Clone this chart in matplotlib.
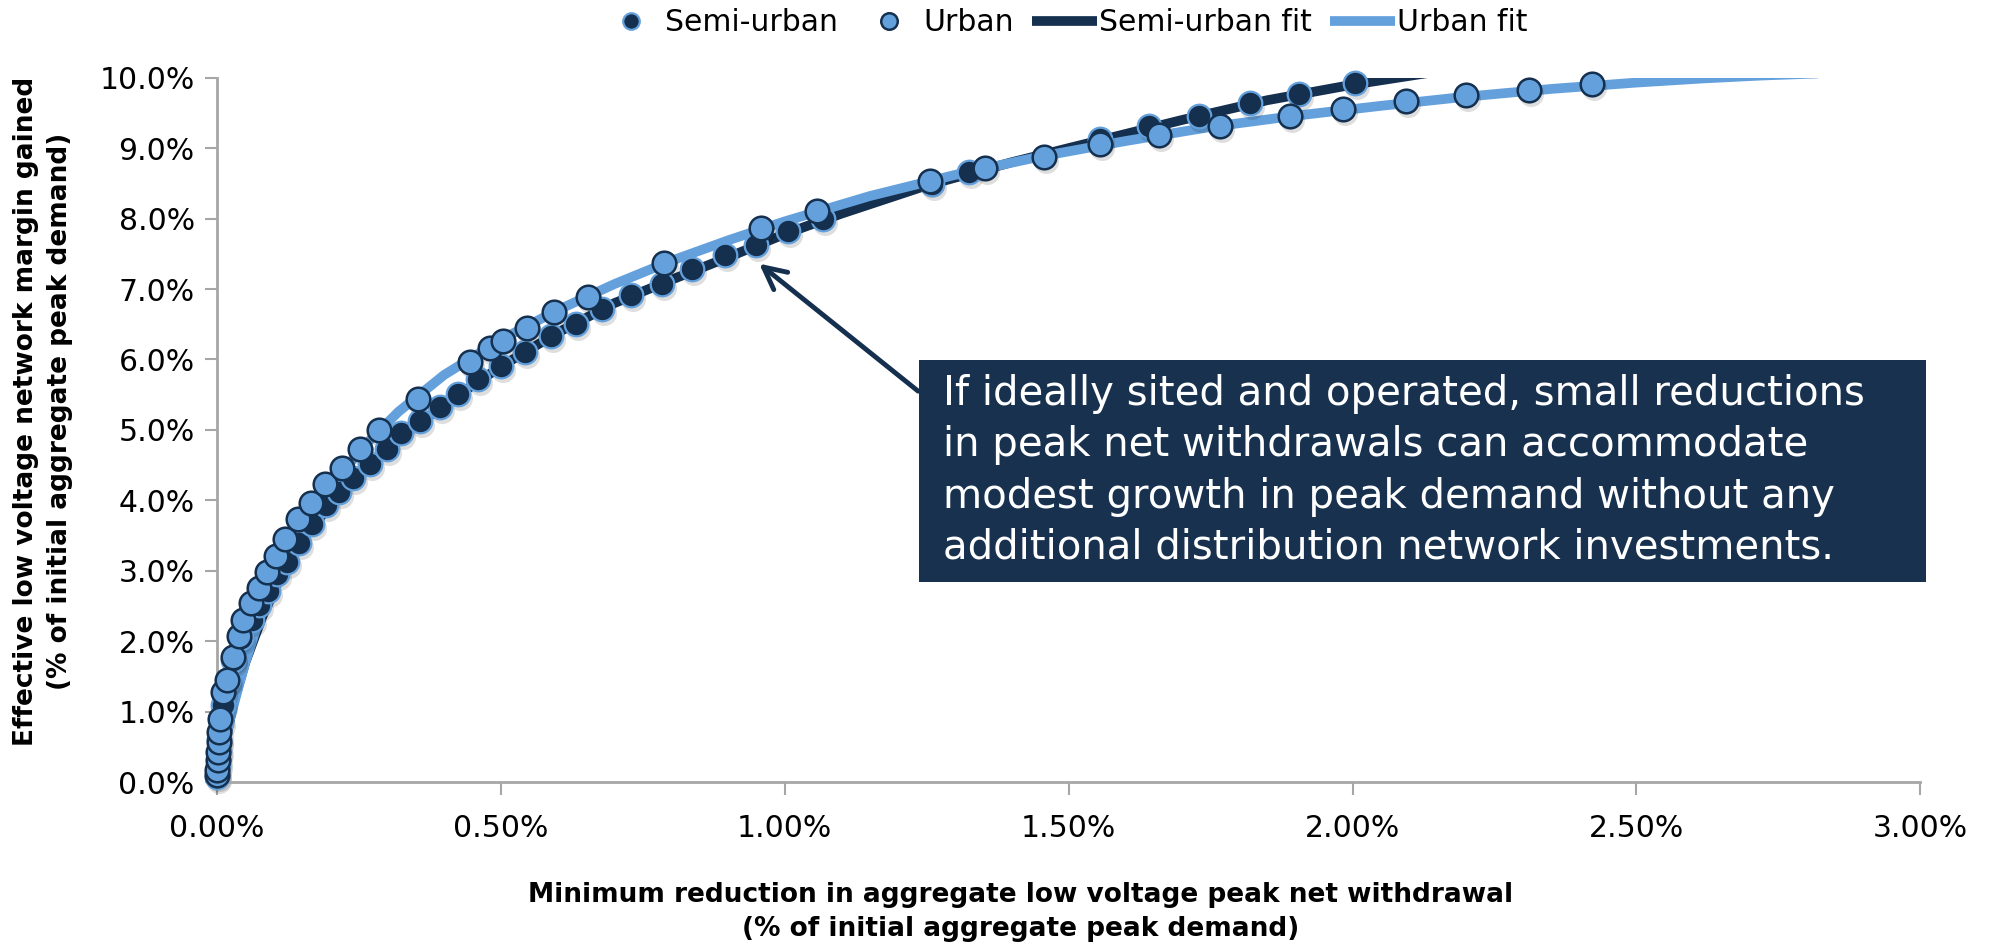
import matplotlib
matplotlib.use('Agg')
import matplotlib.pyplot as plt
from matplotlib.ticker import FuncFormatter, MultipleLocator
from matplotlib.patches import Rectangle
import matplotlib.transforms as mtransforms

# ---------------- data (percent units) ----------------
semi_x = [0.001, 0.002, 0.003, 0.004, 0.007, 0.011, 0.020, 0.029, 0.043, 0.061,
          0.075, 0.090, 0.105, 0.123, 0.145, 0.167, 0.193, 0.215, 0.240, 0.270,
          0.299, 0.325, 0.358, 0.393, 0.425, 0.460, 0.500, 0.543, 0.588, 0.632,
          0.679, 0.729, 0.783, 0.836, 0.895, 0.949, 1.006, 1.068, 1.259, 1.325,
          1.555, 1.642, 1.730, 1.820, 1.905, 2.005]
semi_y = [0.08, 0.25, 0.45, 0.62, 0.85, 1.10, 1.45, 1.73, 2.04, 2.30,
          2.52, 2.72, 2.96, 3.12, 3.40, 3.67, 3.93, 4.12, 4.32, 4.52,
          4.73, 4.95, 5.13, 5.32, 5.51, 5.73, 5.91, 6.10, 6.34, 6.51,
          6.72, 6.91, 7.07, 7.29, 7.48, 7.62, 7.82, 8.00, 8.49, 8.66,
          9.13, 9.32, 9.46, 9.64, 9.77, 9.93]

urban_x = [0.001, 0.001, 0.002, 0.002, 0.003, 0.004, 0.005, 0.011, 0.017, 0.028,
           0.039, 0.046, 0.060, 0.075, 0.089, 0.104, 0.120, 0.143, 0.165, 0.191,
           0.221, 0.252, 0.286, 0.355, 0.446, 0.481, 0.503, 0.546, 0.594, 0.654,
           0.788, 0.959, 1.057, 1.255, 1.353, 1.457, 1.555, 1.660, 1.766, 1.890,
           1.983, 2.094, 2.200, 2.310, 2.422]
urban_y = [0.10, 0.17, 0.31, 0.43, 0.57, 0.71, 0.90, 1.28, 1.45, 1.78,
           2.07, 2.30, 2.54, 2.75, 2.98, 3.21, 3.45, 3.73, 3.97, 4.23,
           4.46, 4.73, 5.00, 5.44, 5.96, 6.17, 6.26, 6.44, 6.67, 6.89,
           7.37, 7.87, 8.11, 8.54, 8.72, 8.88, 9.06, 9.18, 9.32, 9.46,
           9.55, 9.67, 9.75, 9.83, 9.91]

semi_fit_x = [0.005, 0.015, 0.03, 0.05, 0.08, 0.12, 0.17, 0.23, 0.30, 0.40,
              0.50, 0.60, 0.70, 0.80, 0.90, 1.00, 1.10, 1.25, 1.40, 1.55,
              1.70, 1.85, 2.00, 2.08, 2.16]
semi_fit_y = [0.0, 0.6, 1.15, 1.7, 2.35, 3.05, 3.65, 4.2, 4.75, 5.36,
              5.9, 6.38, 6.8, 7.13, 7.45, 7.78, 8.07, 8.47, 8.8, 9.1,
              9.4, 9.68, 9.9, 10.0, 10.1]

urban_fit_x = [0.005, 0.012, 0.02, 0.033, 0.05, 0.07, 0.10, 0.14, 0.19, 0.25,
               0.32, 0.40, 0.50, 0.60, 0.70, 0.80, 0.90, 1.00, 1.15, 1.30,
               1.45, 1.60, 1.75, 1.90, 2.05, 2.20, 2.35, 2.50, 2.62, 2.72, 2.82]
urban_fit_y = [0.0, 0.45, 0.8, 1.2, 1.7, 2.2, 2.85, 3.45, 4.05, 4.7,
               5.26, 5.78, 6.28, 6.70, 7.07, 7.40, 7.69, 7.96, 8.32, 8.62,
               8.88, 9.1, 9.3, 9.46, 9.6, 9.73, 9.84, 9.93, 9.99, 10.03, 10.06]

series_labels = ['Semi-urban', 'Urban', 'Semi-urban fit', 'Urban fit']
x_label = 'Minimum reduction in aggregate low voltage peak net withdrawal\n(% of initial aggregate peak demand)'
y_label = 'Effective low voltage network margin gained\n(% of initial aggregate peak demand)'
note_text = ('If ideally sited and operated, small reductions\n'
             'in peak net withdrawals can accommodate\n'
             'modest growth in peak demand without any\n'
             'additional distribution network investments.')

# ---------------- style ----------------
NAVY = '#15304f'
LIGHT = '#64a1dc'
GRID = '#a6a6a6'

fig = plt.figure(figsize=(19.9, 9.47), dpi=100)
ax = fig.add_axes([0.109, 0.174, 0.856, 0.744])

# fit lines
l_semi_fit, = ax.plot(semi_fit_x, semi_fit_y, color=NAVY, lw=7, zorder=2,
                      solid_capstyle='butt', solid_joinstyle='round')
l_urban_fit, = ax.plot(urban_fit_x, urban_fit_y, color=LIGHT, lw=7, zorder=2.1,
                       solid_capstyle='butt', solid_joinstyle='round')

# marker shadows
shadow_tr = mtransforms.offset_copy(ax.transData, fig=fig, x=2, y=-4, units='dots')
for xs, ys in ((semi_x, semi_y), (urban_x, urban_y)):
    ax.plot(xs, ys, ls='none', marker='o', ms=18, mfc='#000000', mec='none',
            alpha=0.13, transform=shadow_tr, zorder=2.5, clip_on=False)

l_semi, = ax.plot(semi_x, semi_y, ls='none', marker='o', ms=17, mfc=NAVY,
                  mec=LIGHT, mew=1.6, zorder=3, clip_on=False)
l_urban, = ax.plot(urban_x, urban_y, ls='none', marker='o', ms=17, mfc=LIGHT,
                   mec=NAVY, mew=1.8, zorder=4, clip_on=False)

ax.set_xlim(0, 3.0)
ax.set_ylim(0, 10.0)
ax.xaxis.set_major_locator(MultipleLocator(0.5))
ax.yaxis.set_major_locator(MultipleLocator(1.0))
ax.xaxis.set_major_formatter(FuncFormatter(lambda v, p: f'{v:.2f}%'))
ax.yaxis.set_major_formatter(FuncFormatter(lambda v, p: f'{v:.1f}%'))

for s in ('top', 'right'):
    ax.spines[s].set_visible(False)
for s in ('left', 'bottom'):
    ax.spines[s].set_color(GRID)
    ax.spines[s].set_linewidth(2)
ax.tick_params(axis='both', colors=GRID, length=9, width=1.5,
               labelcolor='black', labelsize=21.5)
ax.tick_params(axis='y', pad=7)
ax.tick_params(axis='x', pad=14)

# axis titles
fig.text(0.513, 0.037, x_label, ha='center', va='center', fontsize=19,
         fontweight='bold', linespacing=1.4)
fig.text(0.0215, 0.566, y_label, ha='center', va='center', rotation=90,
         fontsize=19, fontweight='bold', linespacing=1.4, multialignment='center')

# legend
fig.legend([l_semi, l_urban, l_semi_fit, l_urban_fit], series_labels,
           loc='center', bbox_to_anchor=(0.534, 0.976), ncol=4, frameon=False,
           fontsize=21.5, handlelength=2.2, handletextpad=0.05, columnspacing=0.6,
           markerscale=0.7)

# annotation box
box = Rectangle((0.4618, 0.3854), 0.506, 0.2345, transform=fig.transFigure,
                facecolor='#17314f', edgecolor='none', zorder=5)
fig.patches.append(box)
fig.text(0.4739, 0.5026, note_text, ha='left', va='center', color='white',
         fontsize=29, family='DejaVu Sans', linespacing=1.36, zorder=6)

ax.annotate('', xy=(0.955, 7.36), xytext=(1.235, 5.55),
            arrowprops=dict(arrowstyle='->', lw=3.5, color=NAVY,
                            mutation_scale=40, shrinkA=0, shrinkB=0),
            zorder=4.5)

fig.savefig('out.png', dpi=100)
